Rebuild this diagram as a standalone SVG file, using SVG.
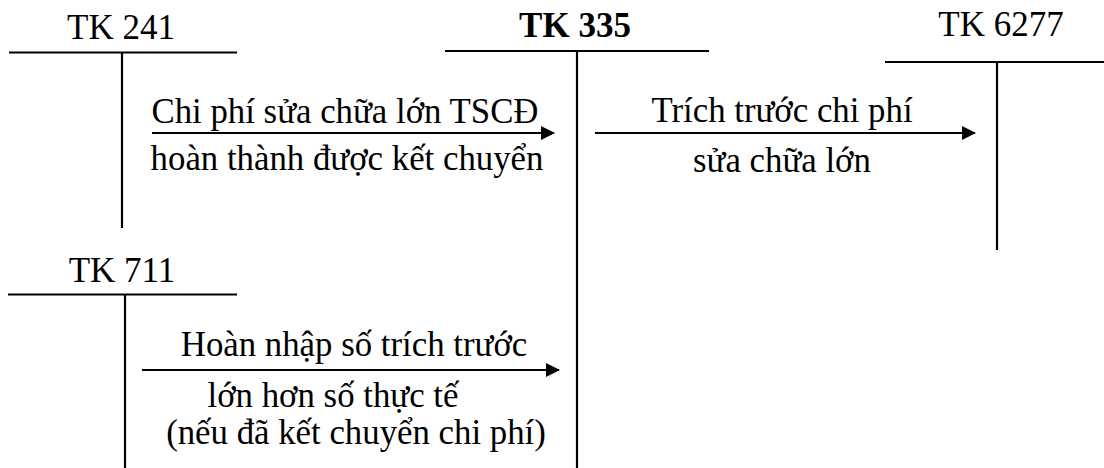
<svg xmlns="http://www.w3.org/2000/svg" width="1104" height="468" viewBox="0 0 1104 468">
  <style>
    text { font-family: "Liberation Serif", "Times New Roman", serif; font-size: 35px; fill: #000; }
    .title { text-anchor: middle; }
    .bold { font-weight: bold; }
    .lbl { text-anchor: middle; font-size: 34.8px; }
    .t { stroke: #000; stroke-width: 2.2; fill: none; }
    .flow { stroke: #000; stroke-width: 2.2; fill: none; marker-end: url(#head); }
  </style>
  <defs>
    <marker id="head" markerUnits="userSpaceOnUse" markerWidth="16" markerHeight="16" refX="14" refY="8" orient="auto">
      <path d="M1,1 L15,8 L1,15 Z" fill="#000"/>
    </marker>
  </defs>
  <rect width="1104" height="468" fill="#fff"/>

  <!-- T-account 241 -->
  <g id="tk241">
    <text class="title" x="121" y="39">TK 241</text>
    <line class="t" x1="9" y1="52.5" x2="237" y2="52.5"/>
    <line class="t" x1="122" y1="52.5" x2="122" y2="228"/>
  </g>

  <!-- T-account 335 -->
  <g id="tk335">
    <text class="title bold" x="575" y="37">TK 335</text>
    <line class="t" x1="445" y1="51" x2="709" y2="51"/>
    <line class="t" x1="577" y1="51" x2="577" y2="468"/>
  </g>

  <!-- T-account 6277 -->
  <g id="tk6277">
    <text class="title" x="1001" y="36">TK 6277</text>
    <line class="t" x1="885" y1="62" x2="1104" y2="62"/>
    <line class="t" x1="997" y1="62" x2="997" y2="250"/>
  </g>

  <!-- T-account 711 -->
  <g id="tk711">
    <text class="title" x="122" y="282">TK 711</text>
    <line class="t" x1="8" y1="294.5" x2="237" y2="294.5"/>
    <line class="t" x1="125" y1="294.5" x2="125" y2="468"/>
  </g>

  <!-- Entries between accounts -->
  <g id="connectors">
    <line class="flow" x1="152" y1="133" x2="554" y2="133"/>
    <line class="flow" x1="595" y1="133" x2="975" y2="133"/>
    <line class="flow" x1="142" y1="370" x2="559" y2="370"/>
  </g>

  <g id="labels">
    <text class="lbl" x="345" y="123">Chi phí sửa chữa lớn TSCĐ</text>
    <text class="lbl" x="347" y="170">hoàn thành được kết chuyển</text>
    <text class="lbl" x="782" y="122">Trích trước chi phí</text>
    <text class="lbl" x="782" y="172">sửa chữa lớn</text>
    <text class="lbl" x="354" y="356">Hoàn nhập số trích trước</text>
    <text class="lbl" x="333" y="407">lớn hơn số thực tế</text>
    <text class="lbl" x="356" y="444">(nếu đã kết chuyển chi phí)</text>
  </g>
</svg>
